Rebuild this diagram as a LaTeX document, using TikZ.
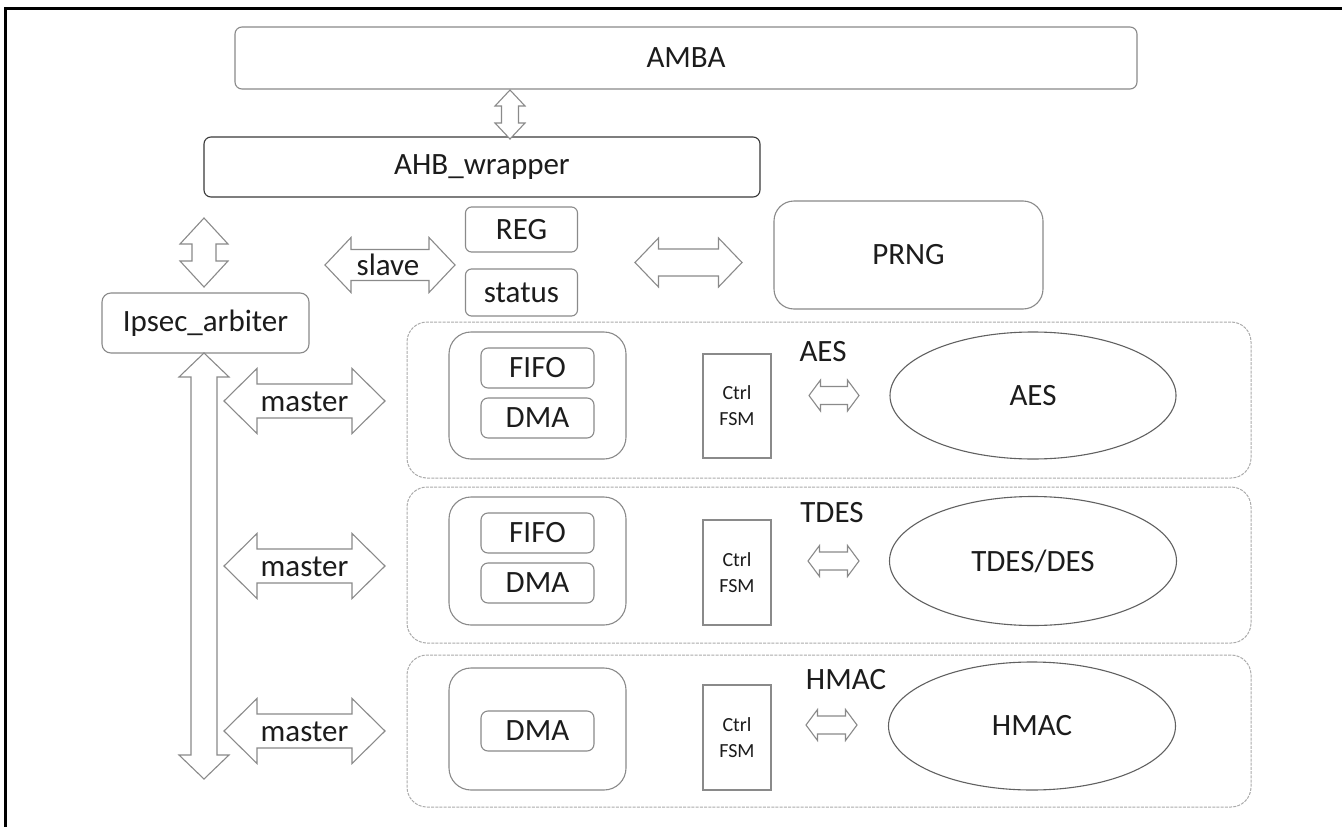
\documentclass[tikz,border=0pt]{standalone}
\usepackage{fontspec}
\setmainfont{Carlito}
\usetikzlibrary{shapes.geometric}

\definecolor{edge}{HTML}{8A8A8A}
\definecolor{darkedge}{HTML}{3A3A3A}
\definecolor{grpedge}{HTML}{ABABAB}
\definecolor{ink}{HTML}{1C1C1C}

\tikzset{
  lbl/.style={font=\fontsize{31}{36}\selectfont, text=ink},
  box/.style={draw=edge, line width=1.1pt, fill=white, rounded corners=7pt, inner sep=0pt, lbl},
  bigbox/.style={box, rounded corners=22pt},
  group/.style={draw=grpedge, line width=1pt, dash pattern=on 3pt off 1.2pt, rounded corners=20pt, inner sep=0pt},
  fsmbox/.style={draw=edge, line width=1.1pt, fill=white, inner sep=0pt, align=center,
                 font=\fontsize{20}{26}\selectfont, text=ink},
  engine/.style={ellipse, draw=darkedge!80, line width=1.1pt, fill=white, inner sep=0pt, lbl},
  blockarrow/.style={draw=edge, line width=1.1pt, fill=white, line join=miter},
}

% horizontal two-headed block arrow: x1, x2, y, shaft half-width, head half-width, head length
\newcommand\hdarrow[6]{%
  \draw[blockarrow] (#1,#3) -- (#1+#6,#3-#5) -- (#1+#6,#3-#4) -- (#2-#6,#3-#4)
    -- (#2-#6,#3-#5) -- (#2,#3) -- (#2-#6,#3+#5) -- (#2-#6,#3+#4)
    -- (#1+#6,#3+#4) -- (#1+#6,#3+#5) -- cycle;}
% vertical two-headed block arrow: x, y1, y2, shaft half-width, head half-width, head length
\newcommand\vdarrow[6]{%
  \draw[blockarrow] (#1,#2) -- (#1+#5,#2+#6) -- (#1+#4,#2+#6) -- (#1+#4,#3-#6)
    -- (#1+#5,#3-#6) -- (#1,#3) -- (#1-#5,#3-#6) -- (#1-#4,#3-#6)
    -- (#1-#4,#2+#6) -- (#1-#5,#2+#6) -- cycle;}

\begin{document}
\begin{tikzpicture}[x=1pt, y=-1pt]
\useasboundingbox (0,0) rectangle (1342,827);
\fill[white] (0,0) rectangle (1342,827);

% page frame (top and left rules)
\draw[line width=3pt, line cap=rect] (5,827) -- (5,8) -- (1342,8);

% bus and wrapper
\node[box, minimum width=902pt, minimum height=62pt] (amba) at (686,58) {AMBA};
\node[box, draw=darkedge, minimum width=556pt, minimum height=60pt] (ahb) at (482,167) {AHB\_wrapper};
\vdarrow{510}{90}{139}{8.5}{15}{16}

% slave side registers
\node[box, rounded corners=6pt, minimum width=112pt, minimum height=45pt] (reg) at (521.5,229.5) {REG};
\node[box, rounded corners=6pt, minimum width=112pt, minimum height=47pt] (status) at (521.5,292.5) {status};
\hdarrow{325}{455}{265}{15.5}{27.5}{26}
\node[lbl, inner sep=0pt] (slave) at (388,265) {slave};

% random number generator
\node[bigbox, rounded corners=20pt, minimum width=269pt, minimum height=108pt] (prng) at (908.5,255) {PRNG};
\hdarrow{635}{742}{262.5}{13.5}{24.5}{23.5}

% arbiter and its links
\node[box, rounded corners=9pt, minimum width=207pt, minimum height=60pt] (arb) at (205.5,323) {Ipsec\_arbiter};
\vdarrow{204}{218}{287}{12}{24}{26}
\vdarrow{204}{353}{779}{13}{25}{24}

% crypto channels
\foreach \n/\cy/\h in {1/400/156, 2/565/156, 3/731/152}{
  \node[group, minimum width=844pt, minimum height=\h pt] (grp\n) at (829,\cy) {};
}

% AES channel
\node[bigbox, minimum width=177pt, minimum height=127pt] (dmac1) at (537.5,395.5) {};
\node[box, minimum width=113pt, minimum height=40pt] (fifo1) at (537.5,368) {FIFO};
\node[box, minimum width=113pt, minimum height=40pt] (dma1) at (537.5,418) {DMA};
\node[fsmbox, minimum width=68pt, minimum height=104pt] (fsm1) at (737,406) {Ctrl\\FSM};
\node[lbl, inner sep=0pt] (aestag) at (823,352) {AES};
\node[engine, minimum width=286pt, minimum height=127pt] (aes) at (1033,395.5) {AES};
\hdarrow{809}{859}{395.5}{9}{15.5}{11.5}

% TDES channel
\node[bigbox, minimum width=177pt, minimum height=128pt] (dmac2) at (537.5,561) {};
\node[box, minimum width=113pt, minimum height=40pt] (fifo2) at (537.5,533) {FIFO};
\node[box, minimum width=113pt, minimum height=40pt] (dma2) at (537.5,583) {DMA};
\node[fsmbox, minimum width=68pt, minimum height=105pt] (fsm2) at (737,572.5) {Ctrl\\FSM};
\node[lbl, inner sep=0pt] (tdestag) at (832,513) {TDES};
\node[engine, minimum width=287pt, minimum height=129pt] (tdes) at (1033,561) {TDES/DES};
\hdarrow{808}{859}{561}{9}{15.5}{11.5}

% HMAC channel
\node[bigbox, minimum width=177pt, minimum height=122pt] (dmac3) at (537.5,729) {};
\node[box, minimum width=113pt, minimum height=40pt] (dma3) at (537.5,731) {DMA};
\node[fsmbox, minimum width=68pt, minimum height=105pt] (fsm3) at (737,737.5) {Ctrl\\FSM};
\node[lbl, inner sep=0pt] (hmactag) at (846,680) {HMAC};
\node[engine, minimum width=287pt, minimum height=128pt] (hmac) at (1032,726) {HMAC};
\hdarrow{806}{857}{725}{9}{15.5}{11.5}

% master ports
\foreach \n/\cy in {1/401, 2/566, 3/731}{
  \hdarrow{224}{385}{\cy}{17}{32.5}{33}
  \node[lbl, inner sep=0pt] (master\n) at (304.5,\cy+1) {master};
}
\end{tikzpicture}
\end{document}
